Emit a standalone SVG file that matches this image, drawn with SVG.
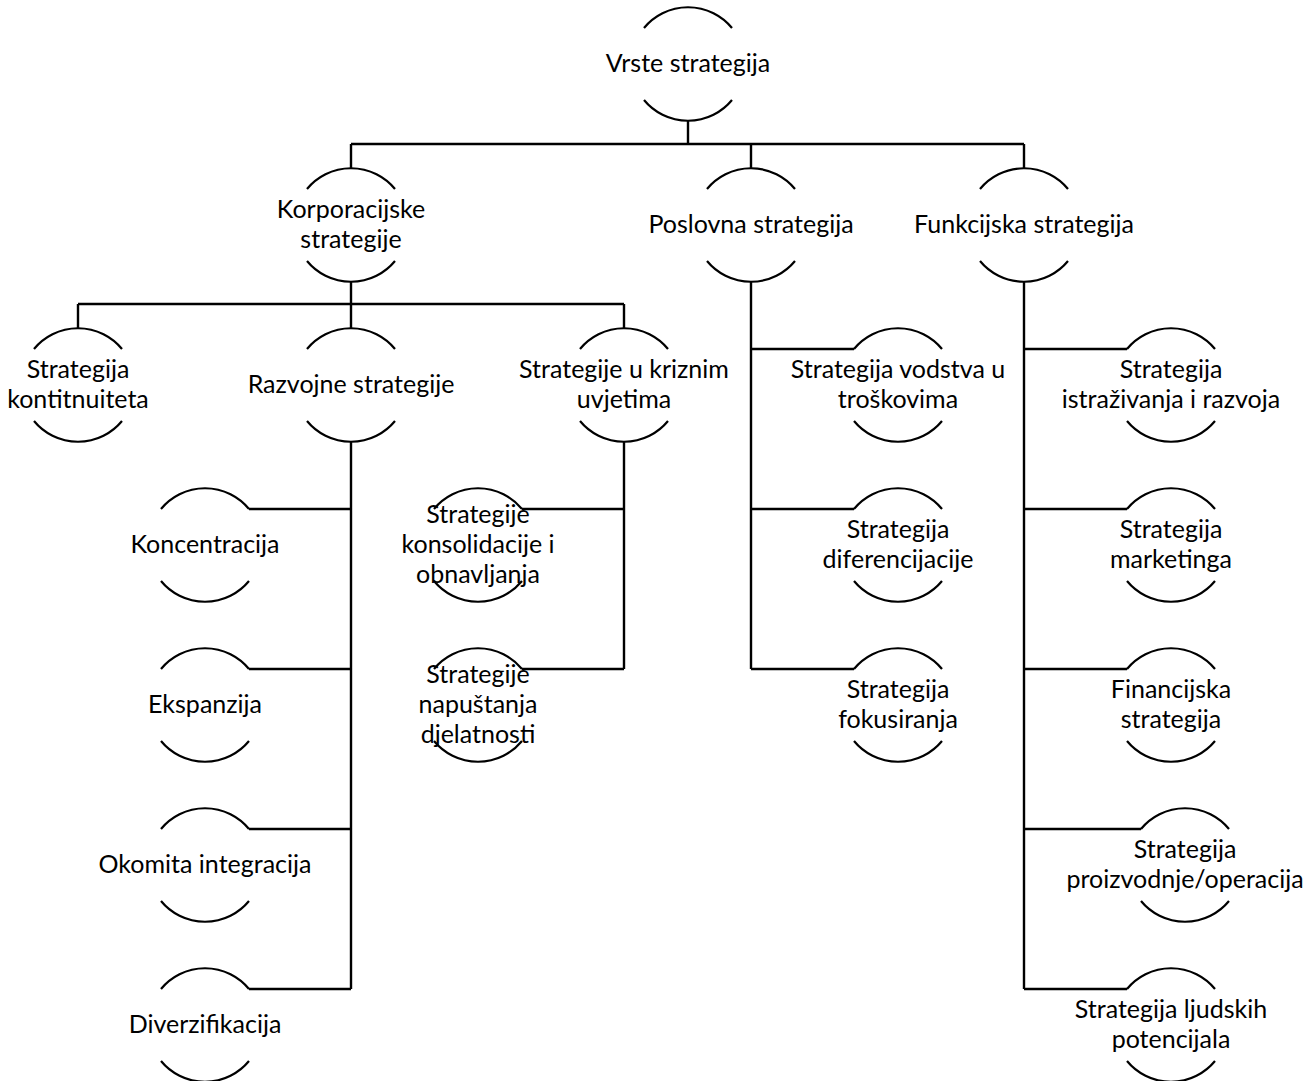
<svg xmlns="http://www.w3.org/2000/svg" width="1314" height="1081" viewBox="0 0 1314 1081">
<style>
.arc{fill:none;stroke:#000;stroke-width:2.2}
.ln{fill:none;stroke:#000;stroke-width:2.4}
text{font-family:Lato,"Open Sans","Liberation Sans",sans-serif;font-size:25px;fill:#000;text-anchor:middle}
</style>
<defs>
<path id="shape" class="arc" d="M-44,-36 A57,57 0 0 1 44,-36 M-44,36 A57,57 0 0 0 44,36"/>
</defs>
<rect width="1314" height="1081" fill="#fff"/>
<g id="connectors" class="ln">
<path d="M688,121 V144 M351,144 H1024 M351,144 V168 M751,144 V168 M1024,144 V168"/>
<path d="M351,282 V304 M78,304 H624 M78,304 V328 M351,304 V328 M624,304 V328"/>
<path d="M351,442 V989 M249,509 H351 M249,669 H351 M249,829 H351 M249,989 H351"/>
<path d="M624,442 V669 M522,509 H624 M522,669 H624"/>
<path d="M751,282 V669 M751,349 H854 M751,509 H854 M751,669 H854"/>
<path d="M1024,282 V989 M1024,349 H1127 M1024,509 H1127 M1024,669 H1127 M1024,829 H1141 M1024,989 H1127"/>
</g>
<g id="n-vrste"><use href="#shape" x="688" y="64"/><text x="688" y="72">Vrste strategija</text></g>
<g id="n-korporacijske"><use href="#shape" x="351" y="225"/><text x="351" y="218">Korporacijske</text><text x="351" y="248">strategije</text></g>
<g id="n-poslovna"><use href="#shape" x="751" y="225"/><text x="751" y="233">Poslovna strategija</text></g>
<g id="n-funkcijska"><use href="#shape" x="1024" y="225"/><text x="1024" y="233">Funkcijska strategija</text></g>
<g id="n-kontinuitet"><use href="#shape" x="78" y="385"/><text x="78" y="378">Strategija</text><text x="78" y="408">kontitnuiteta</text></g>
<g id="n-razvojne"><use href="#shape" x="351" y="385"/><text x="351" y="393">Razvojne strategije</text></g>
<g id="n-krizne"><use href="#shape" x="624" y="385"/><text x="624" y="378">Strategije u kriznim</text><text x="624" y="408">uvjetima</text></g>
<g id="n-koncentracija"><use href="#shape" x="205" y="545"/><text x="205" y="553">Koncentracija</text></g>
<g id="n-ekspanzija"><use href="#shape" x="205" y="705"/><text x="205" y="713">Ekspanzija</text></g>
<g id="n-okomita"><use href="#shape" x="205" y="865"/><text x="205" y="873">Okomita integracija</text></g>
<g id="n-diverzifikacija"><use href="#shape" x="205" y="1025"/><text x="205" y="1033">Diverzifikacija</text></g>
<g id="n-konsolidacija"><use href="#shape" x="478" y="545"/><text x="478" y="523">Strategije</text><text x="478" y="553">konsolidacije i</text><text x="478" y="583">obnavljanja</text></g>
<g id="n-napustanje"><use href="#shape" x="478" y="705"/><text x="478" y="683">Strategije</text><text x="478" y="713">napuštanja</text><text x="478" y="743">djelatnosti</text></g>
<g id="n-vodstvo"><use href="#shape" x="898" y="385"/><text x="898" y="378">Strategija vodstva u</text><text x="898" y="408">troškovima</text></g>
<g id="n-diferencijacija"><use href="#shape" x="898" y="545"/><text x="898" y="538">Strategija</text><text x="898" y="568">diferencijacije</text></g>
<g id="n-fokusiranje"><use href="#shape" x="898" y="705"/><text x="898" y="698">Strategija</text><text x="898" y="728">fokusiranja</text></g>
<g id="n-istrazivanje"><use href="#shape" x="1171" y="385"/><text x="1171" y="378">Strategija</text><text x="1171" y="408">istraživanja i razvoja</text></g>
<g id="n-marketing"><use href="#shape" x="1171" y="545"/><text x="1171" y="538">Strategija</text><text x="1171" y="568">marketinga</text></g>
<g id="n-financijska"><use href="#shape" x="1171" y="705"/><text x="1171" y="698">Financijska</text><text x="1171" y="728">strategija</text></g>
<g id="n-proizvodnja"><use href="#shape" x="1185" y="865"/><text x="1185" y="858">Strategija</text><text x="1185" y="888">proizvodnje/operacija</text></g>
<g id="n-ljudski"><use href="#shape" x="1171" y="1025"/><text x="1171" y="1018">Strategija ljudskih</text><text x="1171" y="1048">potencijala</text></g>
</svg>
